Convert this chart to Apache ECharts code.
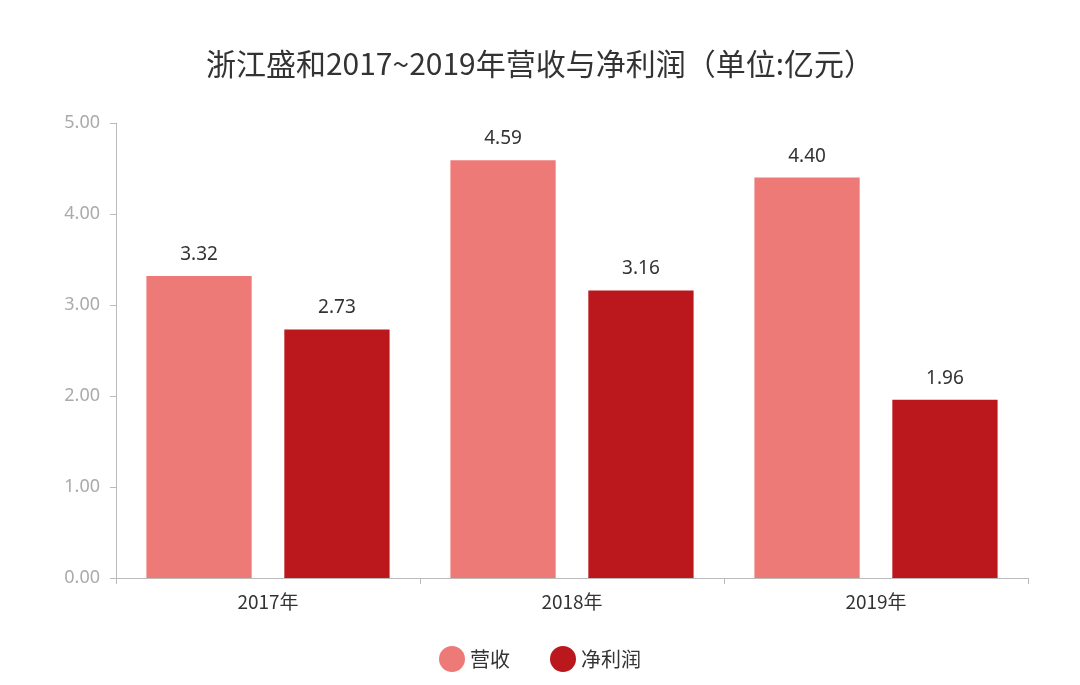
<!DOCTYPE html>
<html>
<head>
<meta charset="utf-8">
<script src="https://cdn.jsdelivr.net/npm/echarts@6/dist/echarts.min.js"></script>
<style>html,body{margin:0;background:#fff}#main{width:1080px;height:685px}</style>
</head>
<body>
<div id="main"></div>
<script>
// 数据
const years = ['2017年', '2018年', '2019年'];
const revenue = [3.32, 4.59, 4.40];
const profit = [2.73, 3.16, 1.96];
const yTicks = [0, 1, 2, 3, 4, 5];

const myChart = echarts.init(document.getElementById('main'));
const label = {
	show: true,
	position: 'top',
	distance: 12,
	color: '#333',
	fontSize: 19,
	fontFamily: 'Noto Sans',
	formatter: (p) => p.value.toFixed(2),
};
myChart.setOption({
	title: {
		text: '浙江盛和2017~2019年营收与净利润（单位:亿元）',
		left: 'center',
		top: 44,
		textStyle: { fontSize: 30, fontWeight: 'normal', color: '#333', fontFamily: 'Noto Sans CJK SC' },
	},
	legend: {
		bottom: 8,
		icon: 'circle',
		itemWidth: 26,
		itemHeight: 26,
		itemGap: 40,
		textStyle: { fontSize: 20, color: '#333', fontFamily: 'Noto Sans CJK SC' },
		data: ['营收', '净利润'],
	},
	grid: { left: 116, right: 52, top: 123, bottom: 107 },
	xAxis: {
		type: 'category',
		data: years,
		axisLine: { lineStyle: { color: '#bbb' } },
		axisTick: { show: true, length: 6, lineStyle: { color: '#bbb' } },
		axisLabel: { color: '#333', fontSize: 19, margin: 14, fontFamily: 'Noto Sans CJK SC' },
	},
	yAxis: {
		type: 'value',
		min: yTicks[0],
		max: yTicks[yTicks.length - 1],
		interval: 1,
		splitLine: { show: false },
		axisLine: { show: true, lineStyle: { color: '#bbb' } },
		axisTick: { show: true, length: 6, lineStyle: { color: '#bbb' } },
		axisLabel: { color: '#aaa', fontSize: 18, margin: 16, fontFamily: 'Noto Sans', formatter: (v) => v.toFixed(2) },
	},
	series: [
		{
			name: '营收',
			type: 'bar',
			data: revenue,
			barGap: '31%',
			barCategoryGap: '20%',
			itemStyle: { color: '#EE7A77' },
			label: label,
		},
		{
			name: '净利润',
			type: 'bar',
			data: profit,
			itemStyle: { color: '#BA181C' },
			label: label,
		},
	],
});
</script>
</body>
</html>
